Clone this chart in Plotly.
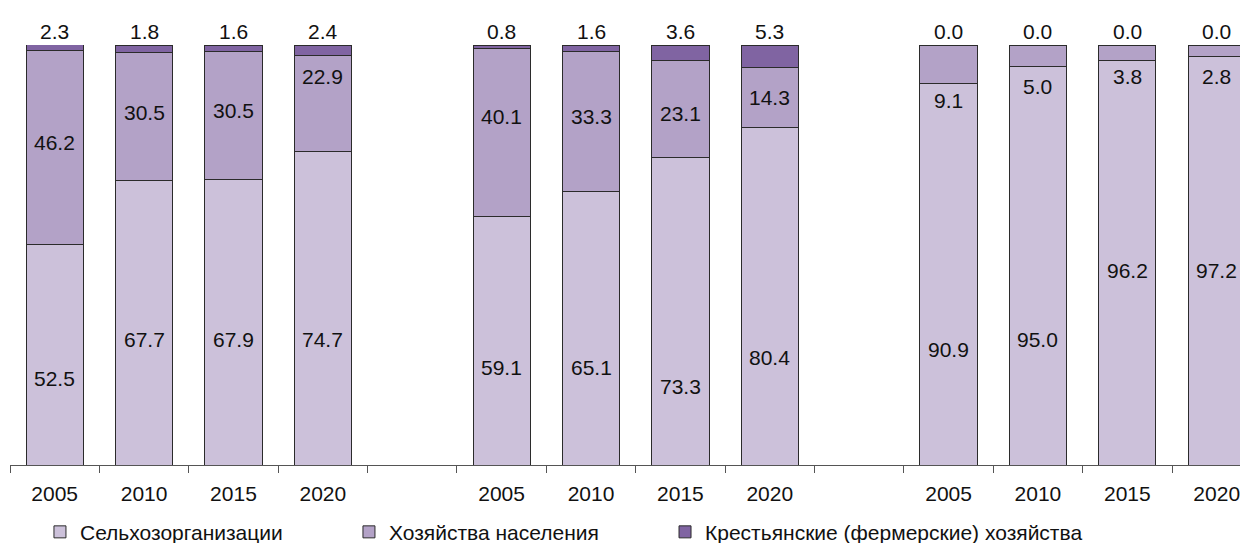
import plotly.graph_objects as go

years = ["2005", "2010", "2015", "2020"]
sel = [52.5, 67.7, 67.9, 74.7, 59.1, 65.1, 73.3, 80.4, 90.9, 95.0, 96.2, 97.2]
hh = [46.2, 30.5, 30.5, 22.9, 40.1, 33.3, 23.1, 14.3, 9.1, 5.0, 3.8, 2.8]
farm = [2.3, 1.8, 1.6, 2.4, 0.8, 1.6, 3.6, 5.3, 0.0, 0.0, 0.0, 0.0]
names = ["Сельхозорганизации", "Хозяйства населения", "Крестьянские (фермерские) хозяйства"]

# label heights (% of axis)
sel_label_y = [20.7, 30, 30, 30, 23.3, 23.3, 18.8, 25.7, 27.4, 30, 46.4, 46.4]
hh_label_y = [76.7, 84, 84.5, 92.4, 82.9, 82.9, 83.8, 87.4, 86.9, 90.2, 92.6, 92.4]

# three groups of four years, with an empty slot between groups
xpos = [g * 5 + i for g in range(3) for i in range(4)]
labels = years * 3

FONT = "Liberation Sans Narrow, Arial Narrow, Liberation Sans, Arial, sans-serif"
colors = ["#CCC1DA", "#B3A2C7", "#8064A2"]
legend_ids = ["legend", "legend2", "legend3"]
legend_x = [0.0242, 0.2738, 0.5291]

fig = go.Figure()
for name, vals, col, lg in zip(names, [sel, hh, farm], colors, legend_ids):
    fig.add_trace(go.Bar(x=xpos, y=vals, name=name, width=0.64, legend=lg,
                         marker=dict(color=col, line=dict(color="#2b2b2b", width=1))))

ann = []
for i, x in enumerate(xpos):
    ann.append(dict(x=x, y=sel_label_y[i], text=f"{sel[i]:.1f}", showarrow=False))
    ann.append(dict(x=x, y=hh_label_y[i], text=f"{hh[i]:.1f}", showarrow=False))
    ann.append(dict(x=x, y=100, yanchor="bottom", text=f"{farm[i]:.1f}", showarrow=False))
for a in ann:
    a.update(xref="x", yref="y", font=dict(size=21, color="#111", family=FONT))

legends = {}
for lg, lx in zip(legend_ids, legend_x):
    legends[lg] = dict(orientation="h", x=lx, xanchor="left", y=-0.16, yanchor="middle",
                       font=dict(size=21), itemwidth=30, bgcolor="rgba(0,0,0,0)")

# page body adds an 8px offset, so the figure is sized to the visible area
fig.update_layout(
    barmode="stack",
    width=1240, height=535,
    margin=dict(l=2, r=0, t=37, b=78, autoexpand=False),
    plot_bgcolor="white", paper_bgcolor="white",
    font=dict(family=FONT, size=21, color="#111"),
    annotations=ann,
    showlegend=True,
    xaxis=dict(range=[-0.5, 13.35], tickvals=xpos, ticktext=labels, ticks="",
               showline=True, linecolor="#555", linewidth=1, showgrid=False,
               zeroline=False, fixedrange=True, ticklabelstandoff=10, automargin=False,
               minor=dict(tickvals=[v - 0.5 for v in range(15)], ticks="outside",
                          ticklen=7, tickcolor="#555", tickwidth=1, showgrid=False)),
    yaxis=dict(range=[0, 100], visible=False, fixedrange=True),
    **legends,
)

fig.write_html("out.html")
